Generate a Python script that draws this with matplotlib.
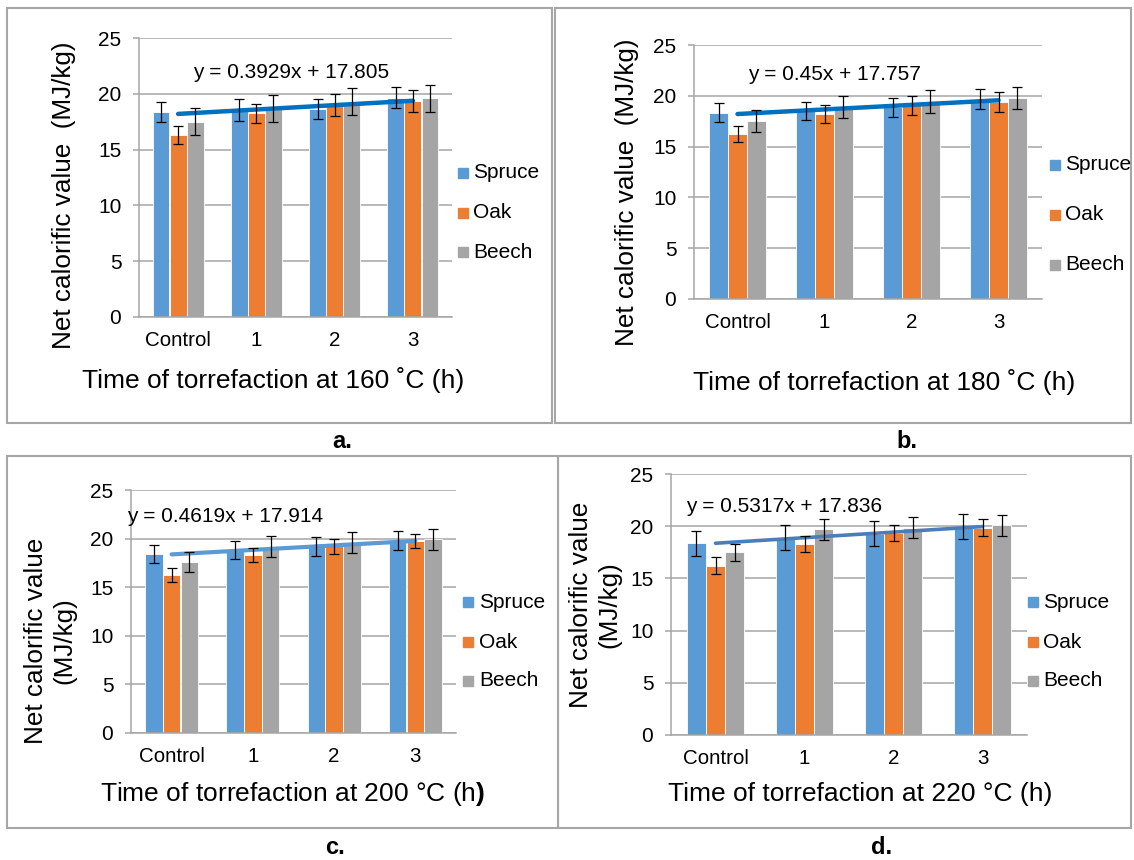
import matplotlib
matplotlib.use("Agg")
import numpy as np
from matplotlib import pyplot as plt
from matplotlib.patches import Rectangle

plt.rcParams['font.family'] = ['Liberation Sans', 'DejaVu Sans']
plt.rcParams['mathtext.fontset'] = 'custom'
plt.rcParams['mathtext.rm'] = 'Liberation Sans'
plt.rcParams['mathtext.bf'] = 'Liberation Sans:bold'

# Data
categories = ['Control', '1', '2', '3']
species = ['Spruce', 'Oak', 'Beech']
colors = ['#5B9BD5', '#ED7D31', '#A5A5A5']

a_spruce = [18.35, 18.55, 18.6, 19.65]
a_oak = [16.3, 18.25, 19.0, 19.35]
a_beech = [17.5, 18.7, 19.3, 19.6]
a_spruce_err = [0.9, 0.95, 0.9, 0.95]
a_oak_err = [0.8, 0.87, 0.95, 0.97]
a_beech_err = [1.2, 1.2, 1.2, 1.2]

b_spruce = [18.35, 18.5, 18.85, 19.7]
b_oak = [16.25, 18.2, 19.05, 19.42]
b_beech = [17.5, 18.9, 19.45, 19.77]
b_spruce_err = [0.92, 0.92, 0.95, 0.95]
b_oak_err = [0.8, 0.9, 0.95, 0.98]
b_beech_err = [1.08, 1.07, 1.1, 1.1]

c_spruce = [18.38, 18.85, 19.2, 19.8]
c_oak = [16.25, 18.3, 19.22, 19.75]
c_beech = [17.55, 19.17, 19.63, 19.92]
c_spruce_err = [0.93, 0.94, 0.96, 0.99]
c_oak_err = [0.75, 0.75, 0.77, 0.75]
c_beech_err = [1.03, 1.1, 1.08, 1.11]

d_spruce = [18.36, 18.9, 19.3, 19.97]
d_oak = [16.22, 18.3, 19.37, 19.86]
d_beech = [17.5, 19.72, 19.86, 20.1]
d_spruce_err = [1.2, 1.2, 1.2, 1.2]
d_oak_err = [0.82, 0.78, 0.78, 0.8]
d_beech_err = [0.8, 1.0, 1.0, 1.0]

# linear trend lines (slope, intercept) printed on each panel
trend_a = (0.3929, 17.805)
trend_b = (0.45, 17.757)
trend_c = (0.4619, 17.914)
trend_d = (0.5317, 17.836)

W, H = 1134, 860
fig = plt.figure(figsize=(W / 100, H / 100), dpi=100)
fig.set_facecolor('white')
GRID = '#A6A6A6'


def fx(x):
    return x / W


def fy(y):
    return 1 - y / H


def panel_box(x0, y0, x1, y1):
    fig.patches.append(Rectangle((fx(x0), fy(y1)), fx(x1 - x0), (y1 - y0) / H,
                                 transform=fig.transFigure, fill=False,
                                 edgecolor=GRID, lw=1.5))


def draw_panel(box, values, errors, trend, trend_color, trend_lw):
    x0, x1, y0, y1 = box
    ax = fig.add_axes([fx(x0), fy(y1), fx(x1 - x0), (y1 - y0) / H])
    xs = np.arange(len(categories))
    width = 0.215
    for i, (vals, errs) in enumerate(zip(values, errors)):
        ax.bar(xs + (i - 1) * 0.218, vals, width, color=colors[i],
               edgecolor='white', linewidth=0.6, zorder=2)
        ax.errorbar(xs + (i - 1) * 0.218, vals, yerr=errs, fmt='none',
                    ecolor='black', elinewidth=0.9, capsize=3.4,
                    capthick=0.9, zorder=4)
    m, b = trend
    ax.plot([xs[0], xs[-1]], [m * 1 + b, m * len(xs) + b], color=trend_color,
            lw=trend_lw, solid_capstyle='round', zorder=3)
    ax.set_xlim(-0.5, len(xs) - 0.5)
    ax.set_ylim(0, 25)
    ax.set_yticks([0, 5, 10, 15, 20, 25])
    ax.set_xticks(xs)
    ax.set_xticklabels(categories)
    ax.yaxis.grid(True, color=GRID, lw=1.1)
    ax.set_axisbelow(True)
    for s in ['top', 'right']:
        ax.spines[s].set_visible(False)
    for s in ['left', 'bottom']:
        ax.spines[s].set_color(GRID)
        ax.spines[s].set_linewidth(1.1)
    ax.tick_params(axis='y', length=4.2, width=1.1, color=GRID, pad=8.5,
                   labelsize=15)
    ax.tick_params(axis='x', length=0, pad=10, labelsize=14.8)
    return ax


def legend(xsq, xtxt, ys):
    for name, c, y in zip(species, colors, ys):
        fig.patches.append(Rectangle((fx(xsq), fy(y + 5)), fx(10), 10 / H,
                                     transform=fig.transFigure, color=c))
        fig.text(fx(xtxt), fy(y), name, fontsize=15, va='center', ha='left')


# panel borders
panel_box(7, 8, 552, 423)
panel_box(555, 8, 1131, 423)
panel_box(7, 456, 558, 828)
panel_box(558, 456, 1131, 828)

# a.
draw_panel((139, 452, 38, 317), [a_spruce, a_oak, a_beech],
           [a_spruce_err, a_oak_err, a_beech_err], trend_a, '#0070C0', 3.2)
fig.text(fx(291), fy(72), 'y = 0.3929x + 17.805', fontsize=15,
         ha='center', va='center')
fig.text(fx(64), fy(195), 'Net calorific value  (MJ/kg)', fontsize=18.8,
         rotation=90, ha='center', va='center')
fig.text(fx(273), fy(380), 'Time of torrefaction at 160 \u02daC (h)',
         fontsize=19, ha='center', va='center')
legend(458, 473, [173, 213, 252])

# b.
draw_panel((694, 1042, 45, 299), [b_spruce, b_oak, b_beech],
           [b_spruce_err, b_oak_err, b_beech_err], trend_b, '#0070C0', 3.2)
fig.text(fx(834), fy(75), 'y = 0.45x + 17.757', fontsize=15,
         ha='center', va='center')
fig.text(fx(627), fy(192), 'Net calorific value  (MJ/kg)', fontsize=18.8,
         rotation=90, ha='center', va='center')
fig.text(fx(884), fy(382), 'Time of torrefaction at 180 \u02daC (h)',
         fontsize=19, ha='center', va='center')
legend(1050, 1065, [165, 215, 265])

# c.
draw_panel((131, 456, 490, 733), [c_spruce, c_oak, c_beech],
           [c_spruce_err, c_oak_err, c_beech_err], trend_c, '#5B9BD5', 3.0)
fig.text(fx(127), fy(517), 'y = 0.4619x + 17.914', fontsize=15,
         ha='left', va='center')
fig.text(fx(50), fy(641), 'Net calorific value\n(MJ/kg)', fontsize=18.8,
         rotation=90, ha='center', va='center', linespacing=1.2)
fig.text(fx(293), fy(794), 'Time of torrefaction at 200 \u00b0C (h$\\mathbf{)}$',
         fontsize=19, ha='center', va='center')
legend(463, 479, [602, 642, 681])

# d.
draw_panel((671, 1027, 474, 735), [d_spruce, d_oak, d_beech],
           [d_spruce_err, d_oak_err, d_beech_err], trend_d, '#4A7EBB', 2.6)
fig.text(fx(686), fy(507), 'y = 0.5317x + 17.836', fontsize=15,
         ha='left', va='center')
fig.text(fx(595), fy(605), 'Net calorific value\n(MJ/kg)', fontsize=18.8,
         rotation=90, ha='center', va='center', linespacing=1.2)
fig.text(fx(860), fy(794), 'Time of torrefaction at 220 \u00b0C (h)',
         fontsize=19, ha='center', va='center')
legend(1028, 1043, [602, 642, 681])

# panel letters
for letter, x, y in [('a.', 342, 442), ('b.', 907, 442),
                     ('c.', 335, 848), ('d.', 882, 848)]:
    fig.text(fx(x), fy(y), letter, fontsize=17, fontweight='bold',
             ha='center', va='center')

fig.savefig('out.png', dpi=100, facecolor='white')
